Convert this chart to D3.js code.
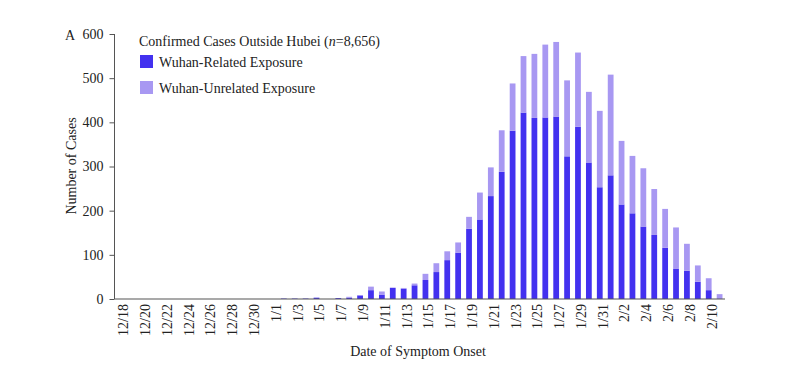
<!DOCTYPE html>
<html><head><meta charset="utf-8">
<script src="https://cdn.jsdelivr.net/npm/d3@7"></script>
<style>
body{margin:0;background:#fff;}
svg{font-family:"Liberation Serif","Times New Roman",serif;}
</style></head>
<body><svg id="c" width="800" height="366"></svg>
<script>
const dates = ["12/18","12/19","12/20","12/21","12/22","12/23","12/24","12/25","12/26","12/27","12/28","12/29","12/30","12/31",
"1/1","1/2","1/3","1/4","1/5","1/6","1/7","1/8","1/9","1/10","1/11","1/12","1/13","1/14","1/15","1/16","1/17","1/18","1/19","1/20",
"1/21","1/22","1/23","1/24","1/25","1/26","1/27","1/28","1/29","1/30","1/31","2/1","2/2","2/3","2/4","2/5","2/6","2/7","2/8","2/9","2/10","2/11"];
const tickLabels = ["12/18","12/20","12/22","12/24","12/26","12/28","12/30","1/1","1/3","1/5","1/7","1/9","1/11","1/13","1/15","1/17","1/19","1/21","1/23","1/25","1/27","1/29","1/31","2/2","2/4","2/6","2/8","2/10"];
const related = [0,0,0,0,0,0,0,0,0,0,0,0,0,0,
0,1,1,1,3,0,2,3,8,20,10,25,23,31,43,61,88,105,159,180,
233,288,381,422,410,411,413,323,390,309,253,280,214,194,164,145,116,68,64,39,20,0];
const unrelated = [0,0,0,0,0,0,0,0,0,0,0,0,0,0,
0,0,0,0,0,0,0,2,1,8,7,1,2,4,14,20,20,23,27,61,
65,94,107,128,145,165,169,172,168,160,173,228,144,130,132,104,88,94,61,37,27,11];
const yTicks = [0,100,200,300,400,500,600];
const seriesNames = ["Wuhan-Related Exposure","Wuhan-Unrelated Exposure"];
const colors = ["#4331ef","#a898f2"];
const title = "Confirmed Cases Outside Hubei";

const svg = d3.select("#c");
const x = d3.scaleBand().domain(dates).range([115,725]).paddingInner(0.47).paddingOuter(0.23);
const y = d3.scaleLinear().domain([0,600]).range([299,34]);

const rows = dates.map((d,i)=>({date:d, related:related[i], unrelated:unrelated[i]}));
const stack = d3.stack().keys(["related","unrelated"])(rows);

svg.selectAll("g.layer").data(stack).join("g").attr("class","layer")
  .attr("fill",(d,i)=>colors[i])
  .selectAll("rect").data(d=>d).join("rect")
  .attr("x",d=>x(d.data.date))
  .attr("width",x.bandwidth())
  .attr("y",d=>y(d[1]))
  .attr("height",d=>Math.max(0,y(d[0])-y(d[1])));

// y axis
const ya = svg.append("g").attr("transform","translate(114.5,0)")
  .call(d3.axisLeft(y).tickValues(yTicks).tickSize(5).tickSizeOuter(0).tickPadding(6));
ya.select(".domain").attr("stroke","#555").attr("d","M0,34V299");
ya.selectAll(".tick line").attr("stroke","#555");
ya.selectAll("text").attr("font-size",14).attr("fill","#222").attr("font-family","Liberation Serif");

// x axis
svg.append("line").attr("x1",114.5).attr("x2",725).attr("y1",299).attr("y2",299).attr("stroke","#555").attr("stroke-width",1.2);
const xa = svg.append("g").attr("transform","translate(0,299)")
  .call(d3.axisBottom(x).tickValues(tickLabels).tickSize(0).tickPadding(0));
xa.select(".domain").remove();
xa.selectAll("text").attr("font-size",14).attr("fill","#222").attr("font-family","Liberation Serif")
  .attr("transform","rotate(-90)").attr("text-anchor","end")
  .attr("x",-5).attr("y",3).attr("dy","0.35em");

// labels
svg.append("text").attr("x",65).attr("y",40).attr("font-size",14).attr("fill","#222").text("A");
svg.append("text").attr("transform","translate(76,166) rotate(-90)").attr("text-anchor","middle")
  .attr("font-size",14).attr("fill","#222").text("Number of Cases");
svg.append("text").attr("x",418).attr("y",356).attr("text-anchor","middle")
  .attr("font-size",14).attr("fill","#222").text("Date of Symptom Onset");

// legend
const lt = svg.append("text").attr("x",139).attr("y",46).attr("font-size",14).attr("fill","#222");
lt.append("tspan").text(title+" (");
lt.append("tspan").attr("font-style","italic").text("n");
lt.append("tspan").text("=8,656)");
seriesNames.forEach((s,i)=>{
  svg.append("rect").attr("x",140).attr("y",55+i*26).attr("width",13).attr("height",13).attr("fill",colors[i]);
  svg.append("text").attr("x",159).attr("y",67+i*26).attr("font-size",14).attr("fill","#222").text(s);
});
</script>
</body></html>
